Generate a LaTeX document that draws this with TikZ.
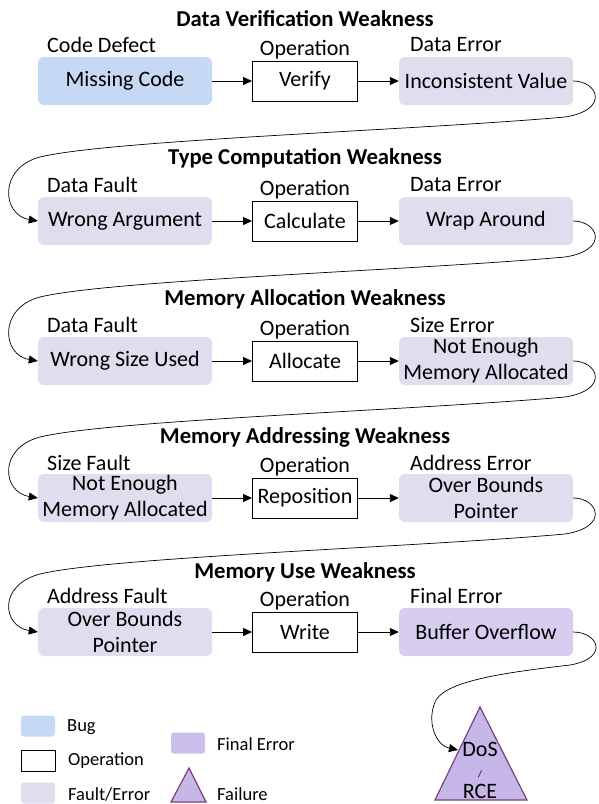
\documentclass[tikz,border=0pt]{standalone}
\usepackage{fontspec}
\setmainfont{Carlito}
\usetikzlibrary{arrows.meta}
\definecolor{bugc}{HTML}{C5D9F5}
\definecolor{faultc}{HTML}{E1DCEE}
\definecolor{finalc}{HTML}{D6CDF0}
\definecolor{finallegc}{HTML}{CBBFEB}
\definecolor{failc}{HTML}{C6B7E8}
\definecolor{failbd}{HTML}{7E3F7C}
\begin{document}
\begin{tikzpicture}[x=1pt,y=-1pt,
  box/.style={rounded corners=6pt, minimum width=174pt, minimum height=48pt, align=center, inner sep=0pt, font=\fontsize{22}{26}\selectfont},
  bugbox/.style={box, fill=bugc},
  faultbox/.style={box, fill=faultc},
  finalbox/.style={box, fill=finalc},
  opbox/.style={draw, line width=0.9pt, minimum width=105pt, minimum height=40pt, inner sep=0pt, font=\fontsize{22}{26}\selectfont},
  lbl/.style={anchor=west, inner sep=0pt, font=\fontsize{22}{26}\selectfont},
  oplbl/.style={inner sep=0pt, font=\fontsize{22}{26}\selectfont},
  ttl/.style={inner sep=0pt, font=\bfseries\fontsize{22.7}{26}\selectfont},
  arr/.style={-{Triangle[length=9pt,width=8pt]}, line width=0.9pt},
  snake/.style={-{Triangle[length=9pt,width=8pt]}, line width=0.7pt},
  legbox/.style={minimum width=34pt, minimum height=21pt, inner sep=0pt, rounded corners=3pt},
  legtxt/.style={anchor=west, inner sep=0pt, font=\fontsize{18.5}{22}\selectfont},
  failshape/.style={fill=failc, draw=failbd, line width=1.2pt, line join=miter},
  trtxt/.style={inner sep=0pt, font=\fontsize{22}{26}\selectfont}
]
\useasboundingbox (0,0) rectangle (599,804);

% Row 1
\node[ttl] (t1) at (305,19) {Data Verification Weakness};
\node[bugbox] (l1) at (125,81) {Missing Code};
\node[opbox] (m1) at (305,81) {Verify};
\node[faultbox] (r1) at (486,81) {Inconsistent Value};
\node[lbl] (a1) at (47,45) {Code Defect};
\node[oplbl] (o1) at (305,50) {Operation};
\node[lbl] (b1) at (410,45) {Data Error};

% Row 2
\node[ttl] (t2) at (305,158) {Type Computation Weakness};
\node[faultbox] (l2) at (125,221) {Wrong Argument};
\node[opbox] (m2) at (305,221) {Calculate};
\node[faultbox] (r2) at (486,221) {Wrap Around};
\node[lbl] (a2) at (47,185) {Data Fault};
\node[oplbl] (o2) at (305,190) {Operation};
\node[lbl] (b2) at (410,185) {Data Error};

% Row 3
\node[ttl] (t3) at (305,299) {Memory Allocation Weakness};
\node[faultbox] (l3) at (125,361) {Wrong Size Used};
\node[opbox] (m3) at (305,361) {Allocate};
\node[faultbox] (r3) at (486,361) {Not Enough\\Memory Allocated};
\node[lbl] (a3) at (47,325) {Data Fault};
\node[oplbl] (o3) at (305,330) {Operation};
\node[lbl] (b3) at (410,325) {Size Error};

% Row 4
\node[ttl] (t4) at (305,437) {Memory Addressing Weakness};
\node[faultbox] (l4) at (125,498) {Not Enough\\Memory Allocated};
\node[opbox] (m4) at (305,498) {Reposition};
\node[faultbox] (r4) at (486,498) {Over Bounds\\Pointer};
\node[lbl] (a4) at (47,463) {Size Fault};
\node[oplbl] (o4) at (305,467) {Operation};
\node[lbl] (b4) at (410,463) {Address Error};

% Row 5
\node[ttl] (t5) at (305,572) {Memory Use Weakness};
\node[faultbox] (l5) at (125,632) {Over Bounds\\Pointer};
\node[opbox] (m5) at (305,632) {Write};
\node[finalbox] (r5) at (486,632) {Buffer Overflow};
\node[lbl] (a5) at (47,596) {Address Fault};
\node[oplbl] (o5) at (305,601) {Operation};
\node[lbl] (b5) at (410,596) {Final Error};

% straight arrows
\foreach \i in {1,...,5} {
  \draw[arr] (l\i) -- (m\i);
  \draw[arr] (m\i) -- (r\i);
}

% snake connectors
\foreach \ra/\lb/\ya/\yb in {r1/l2/81/221, r2/l3/221/361, r3/l4/361/498, r4/l5/498/632} {
  \draw[snake] (\ra.east) .. controls (598,\ya) and (610,\ya+29) .. (565,\ya+36)
    .. controls (420,\ya+49) and (110,\ya+59) .. (40,\ya+76)
    .. controls (-2,\ya+87) and (2,\yb-6) .. (\lb.west);
}

% failure triangle
\coordinate (tapex) at (480,707);
\coordinate (tbr) at (527,800);
\coordinate (tbl) at (435,800);
\coordinate (tarr) at (458,750);
\draw[failshape] (tapex) -- (tbr) -- (tbl) -- cycle;
\node[trtxt] (dos) at (480,749) {DoS};
\node[inner sep=0pt, font=\fontsize{10}{12}\selectfont] (slash) at (480,774) {/};
\node[trtxt] (rce) at (480,791) {RCE};

\draw[snake] (r5.east) .. controls (598,632) and (610,658) .. (570,665)
  .. controls (510,672) and (448,680) .. (436,700)
  .. controls (426,720) and (435,745) .. (tarr);

% legend
\node[legbox, fill=bugc] (lgbug) at (38,726) {};
\node[legtxt] (lgbugt) at (67,727) {Bug};
\node[legbox, draw, rounded corners=0pt, line width=0.9pt] (lgop) at (38,760.5) {};
\node[legtxt] (lgopt) at (68,761) {Operation};
\node[legbox, fill=faultc] (lgfe) at (38,793) {};
\node[legtxt] (lgfet) at (68,794) {Fault/Error};
\node[legbox, fill=finallegc] (lgfin) at (188,743) {};
\node[legtxt] (lgfint) at (217,744) {Final Error};
\coordinate (lta) at (189,768);
\coordinate (ltr) at (206,802);
\coordinate (ltl) at (171,802);
\draw[failshape] (lta) -- (ltr) -- (ltl) -- cycle;
\node[legtxt] (lgfail) at (217,794) {Failure};
\end{tikzpicture}
\end{document}
